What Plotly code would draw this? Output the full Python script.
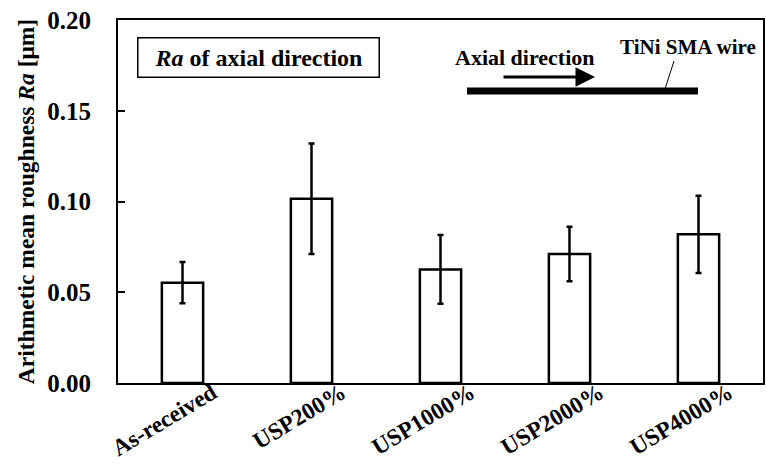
import plotly.graph_objects as go

categories = ["As-received", "USP200%", "USP1000%", "USP2000%", "USP4000%"]
ra_values = [0.0553, 0.1015, 0.0626, 0.0711, 0.0819]
ra_errors = [0.0114, 0.0304, 0.0190, 0.0150, 0.0213]
y_ticks = [0.00, 0.05, 0.10, 0.15, 0.20]

FONT = "Liberation Serif, Times New Roman, serif"

fig = go.Figure()
fig.add_trace(go.Bar(
    x=categories, y=ra_values,
    marker=dict(color="white", line=dict(color="black", width=2.5)),
    error_y=dict(type="data", array=ra_errors, visible=True,
                 color="black", thickness=2.5, width=3),
    width=0.32,
))

W, H = 766, 465
L, R, T, B = 118, 3, 20, 82
PW, PH = W - L - R, H - T - B

def px(x):
    return (x - L) / PW

def py(y):
    return (H - B - y) / PH

fig.update_layout(
    width=W, height=H,
    margin=dict(l=L, r=R, t=T, b=B, autoexpand=False),
    plot_bgcolor="white", paper_bgcolor="white",
    font=dict(family=FONT, color="black"),
    showlegend=False,
    xaxis=dict(
        automargin=False,
        showline=True, linecolor="black", linewidth=2, mirror=True,
        ticks="", tickangle=-31, ticklabelshift=30, ticklabelstandoff=-15,
        tickfont=dict(family=FONT, size=23.5, color="black", weight="bold"),
    ),
    yaxis=dict(
        automargin=False,
        range=[0, 0.2], tickvals=y_ticks, tickformat=".2f",
        showline=True, linecolor="black", linewidth=2, mirror=True,
        ticks="inside", ticklen=7, tickwidth=2, tickcolor="black",
        showgrid=False, zeroline=False,
        ticklabelstandoff=20,
        tickfont=dict(family=FONT, size=25, color="black", weight="bold"),
        title=dict(text="Arithmetic mean roughness <i>Ra</i> [μm]",
                   font=dict(family=FONT, size=23.5, color="black", weight="bold"),
                   standoff=6),
    ),
)

# label box
fig.add_annotation(
    xref="paper", yref="paper", x=px(137), y=py(57), xanchor="left", yanchor="middle",
    text="<b><i>Ra</i> of axial direction</b>", showarrow=False,
    font=dict(family=FONT, size=24, color="black"),
    bordercolor="black", borderwidth=1.5, borderpad=2, bgcolor="white",
    width=236, height=34,
)
# Axial direction text + arrow
fig.add_annotation(
    xref="paper", yref="paper", x=px(525), y=py(57), xanchor="center", yanchor="middle",
    showarrow=False,
    text="<b>Axial direction</b>", font=dict(family=FONT, size=22, color="black"),
)
fig.add_annotation(
    xref="paper", yref="paper", x=px(595), y=py(77), ax=-93, ay=0,
    showarrow=True, arrowhead=2, arrowsize=1.3, arrowwidth=3, arrowcolor="black", text="",
)
fig.add_annotation(
    xref="paper", yref="paper", x=px(688), y=py(47), xanchor="center", yanchor="middle",
    showarrow=False,
    text="<b>TiNi SMA wire</b>", font=dict(family=FONT, size=21, color="black"),
)
# wire and leader line
fig.add_shape(type="line", xref="paper", yref="paper",
              x0=px(467), x1=px(698), y0=py(91), y1=py(91),
              line=dict(color="black", width=7))
fig.add_shape(type="line", xref="paper", yref="paper",
              x0=px(665), x1=px(674), y0=py(89), y1=py(61),
              line=dict(color="black", width=1))

fig.write_html("out.html", config={"displayModeBar": False},
               post_script="document.body.style.margin='0';")
